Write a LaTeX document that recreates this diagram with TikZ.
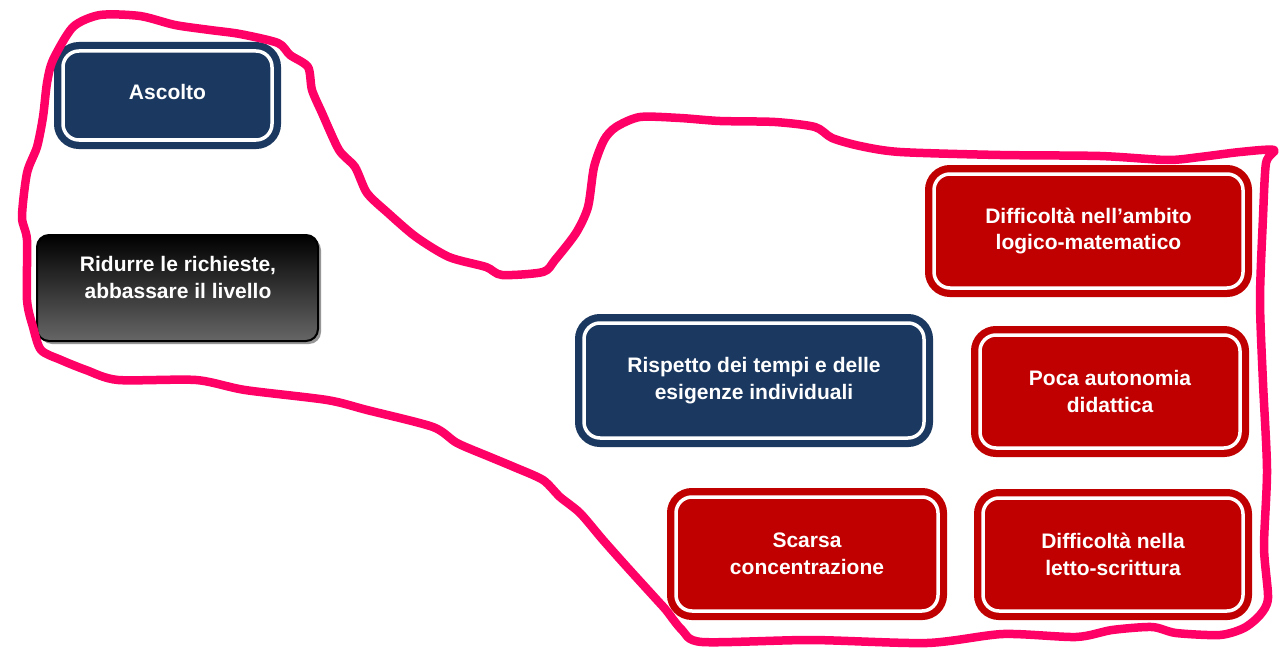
\documentclass[tikz,border=0pt]{standalone}
\usepackage{fontspec}
\setmainfont{Liberation Sans}
\usetikzlibrary{shadows}
\definecolor{navy}{RGB}{27,56,96}
\definecolor{dred}{RGB}{192,0,0}
\definecolor{pinkline}{RGB}{255,0,102}
\definecolor{shadowgray}{RGB}{150,150,150}
\tikzset{
  lbl/.style={text=white, font=\fontsize{21}{26.5}\selectfont\bfseries, align=center},
  framedbox/.style={rectangle, rounded corners=16pt, fill=#1, draw=white, line width=3.5pt,
     preaction={draw=#1, line width=18pt}, inner sep=0pt, lbl},
  navybox/.style={framedbox=navy},
  redbox/.style={framedbox=dred},
  greybox/.style={rectangle, rounded corners=12pt, draw=black, line width=2pt,
     top color=black, bottom color=black!60, middle color=black!80,
     drop shadow={shadow xshift=3pt, shadow yshift=-3pt, fill=shadowgray, opacity=1},
     inner sep=0pt},
  outline/.style={draw=pinkline, line width=8.5pt, line join=round, line cap=round}
}
\begin{document}
\begin{tikzpicture}[x=1pt, y=-1pt]
\useasboundingbox (0,0) rectangle (1279,650);
\fill[white] (0,0) rectangle (1279,650);

\node[navybox, minimum width=209pt, minimum height=89pt, text depth=8pt] (ascolto) at (167.5,95.5) {Ascolto};

\node[greybox, minimum width=281pt, minimum height=106pt] (ridurre) at (177.5,288) {};
\node[lbl] (ridurreT) at (178,277.5) {Ridurre le richieste,\\abbassare il livello};

\node[navybox, minimum width=340pt, minimum height=115pt] (rispetto) at (754,380.5) {Rispetto dei tempi e delle\\esigenze individuali};

\node[redbox, minimum width=309pt, minimum height=114pt] (logico) at (1088.5,231) {Difficoltà nell’ambito\\logico-matematico};

\node[redbox, minimum width=260pt, minimum height=113pt] (poca) at (1110,391.5) {Poca autonomia\\didattica};

\node[redbox, minimum width=262pt, minimum height=114pt] (scarsa) at (807,554) {Scarsa\\concentrazione};

\node[redbox, minimum width=260pt, minimum height=113pt] (letto) at (1113,554.5) {Difficoltà nella\\letto-scrittura};

\draw[outline] plot[smooth cycle, tension=0.45] coordinates {
(100,15) (140,16) (175,25) (210,30) (240,34) (278,43) (290,55) (308,67) (312,90)
(322,113) (339,150) (355,167) (367,193) (388,213) (416,237) (449,257) (486,267)
(502,275) (543,272) (555,260) (576,233) (588,207) (594,167) (604,140) (616,127)
(640,117) (680,118) (720,121) (775,122) (815,127) (832,138) (860,146) (900,152)
(1000,155) (1100,156) (1167,160) (1200,157) (1240,152) (1274,150) (1266,163)
(1263,217) (1260,300) (1263,383) (1267,470) (1264,547) (1268,598) (1260,615)
(1244,628) (1220,635) (1176,633) (1152,627) (1112,630) (1076,637) (1003,634)
(927,643) (811,640) (702,642) (682,630) (666,610) (657,600) (627,567) (603,540)
(580,513) (560,497) (543,480) (514,467) (490,457) (457,443) (433,427) (367,410)
(327,400) (245,390) (196,380) (118,380) (86,370) (61,360) (41,350) (33,327)
(27,300) (27,240) (22,217) (27,173) (37,147) (43,117) (47,83) (53,60) (73,27)
};
\end{tikzpicture}
\end{document}
